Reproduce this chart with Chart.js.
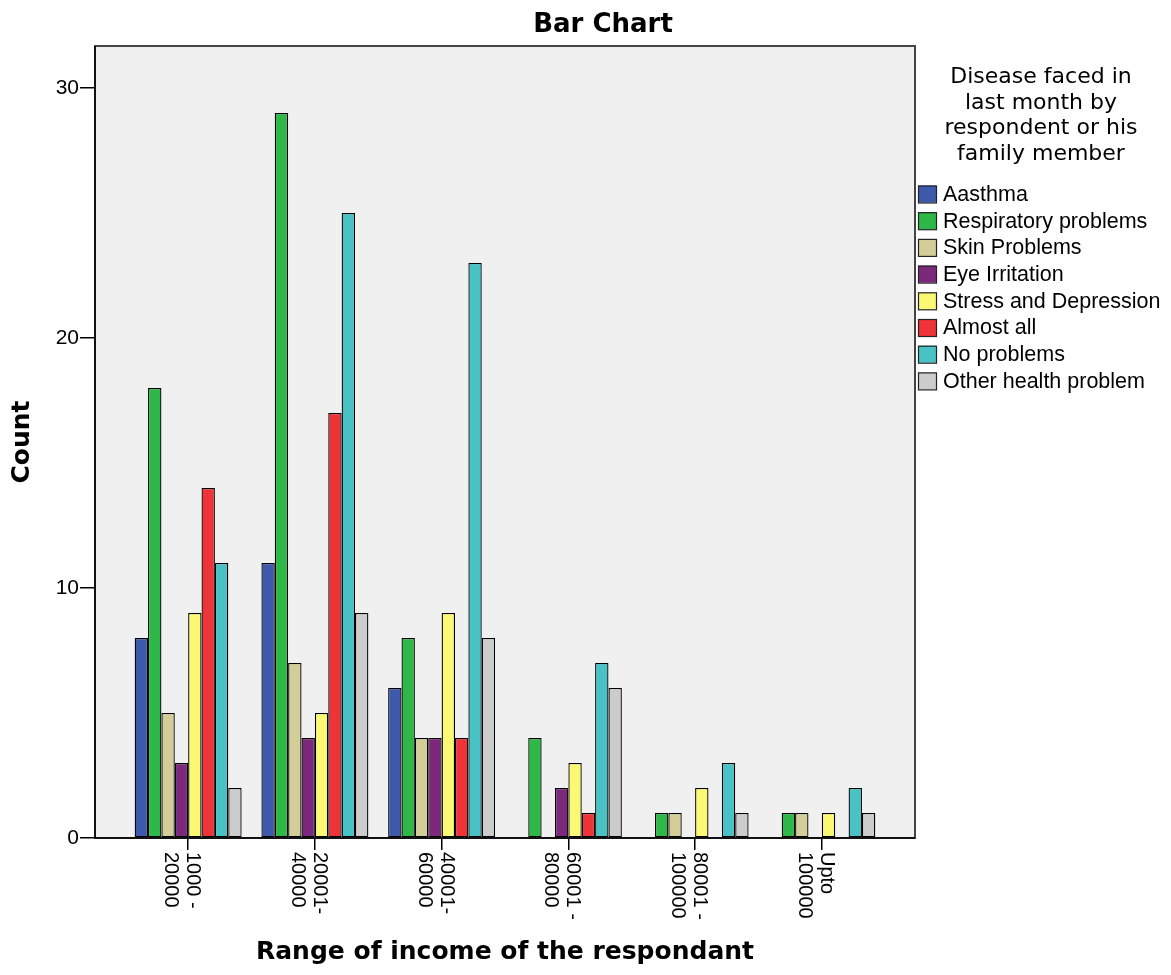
<!DOCTYPE html>
<html>
<head>
<meta charset="utf-8">
<title>Bar Chart</title>
<script src="https://cdn.jsdelivr.net/npm/chart.js"></script>
<style>
    html, body { margin: 0; padding: 0; background: #fff; }
    #wrap { width: 1171px; height: 975px; position: relative; }
</style>
</head>
<body>
<div id="wrap"><canvas id="income-disease-chart"></canvas></div>
<script>
// kategori pendapatan (dua baris per label)
const incomeRanges = [
    ["1000 -", "20000"],
    ["20001-", "40000"],
    ["40001-", "60000"],
    ["60001 -", "80000"],
    ["80001 -", "100000"],
    ["Upto", "100000"],
];

const diseaseLabels = [
    "Aasthma",
    "Respiratory problems",
    "Skin Problems",
    "Eye Irritation",
    "Stress and Depression",
    "Almost all",
    "No problems",
    "Other health problem",
];

// nilai per penyakit, urut sesuai incomeRanges
const aasthma = [8, 11, 6, 0, 0, 0];
const respiratory = [18, 29, 8, 4, 1, 1];
const skinProblems = [5, 7, 4, 0, 1, 1];
const eyeIrritation = [3, 4, 4, 2, 0, 0];
const stressDepression = [9, 5, 9, 3, 2, 1];
const almostAll = [14, 17, 4, 1, 0, 0];
const noProblems = [11, 25, 23, 7, 3, 2];
const otherHealth = [2, 9, 8, 6, 1, 1];

const yTicks = [0, 10, 20, 30];

const legendTitle = ["Disease faced in", "last month by", "respondent or his", "family member"];

const seriesColors = [
    "#3E58AC", "#2EB848", "#D3CE97", "#7C287D",
    "#FBF873", "#EF3338", "#48C2C5", "#CCCCCC",
];

const seriesData = [
    aasthma, respiratory, skinProblems, eyeIrritation,
    stressDepression, almostAll, noProblems, otherHealth,
];

// background abu-abu + bingkai area plot
const plotFrame = {
    id: "plotFrame",
    beforeDraw(chart) {
        const { ctx, chartArea: a } = chart;
        ctx.save();
        ctx.fillStyle = "#F0F0F0";
        ctx.fillRect(a.left, a.top, a.right - a.left, a.bottom - a.top);
        ctx.restore();
    },
    afterDatasetsDraw(chart) {
        const { ctx, chartArea: a } = chart;
        ctx.save();
        ctx.strokeStyle = "#444";
        ctx.lineWidth = 2;
        ctx.strokeRect(a.left, a.top, a.right - a.left, a.bottom - a.top);
        ctx.strokeStyle = "#000";
        ctx.lineWidth = 1.5;
        ctx.beginPath();
        ctx.moveTo(a.left, a.top);
        ctx.lineTo(a.left, a.bottom);
        ctx.lineTo(a.right, a.bottom);
        ctx.stroke();
        ctx.restore();
    },
};

// label sumbu x diputar searah jarum jam
const rotatedLabels = {
    id: "rotatedLabels",
    afterDraw(chart) {
        const { ctx, chartArea: a } = chart;
        const xScale = chart.scales.x;
        ctx.save();
        ctx.fillStyle = "#000";
        ctx.font = "20px 'Liberation Sans', Arial, sans-serif";
        ctx.textAlign = "left";
        ctx.textBaseline = "alphabetic";
        incomeRanges.forEach((lines, i) => {
            const x = xScale.getPixelForValue(i);
            ctx.save();
            ctx.translate(x, a.bottom + 14);
            ctx.rotate(Math.PI / 2);
            lines.forEach((line, j) => ctx.fillText(line, 0, 1 + j * 22));
            ctx.restore();
        });
        ctx.restore();
    },
};

// judul + legenda di kanan
const titleAndLegend = {
    id: "titleAndLegend",
    afterDraw(chart) {
        const { ctx } = chart;
        ctx.save();
        ctx.fillStyle = "#000";
        ctx.textAlign = "center";
        ctx.textBaseline = "alphabetic";
        ctx.font = "bold 26px 'DejaVu Sans', sans-serif";
        ctx.fillText("Bar Chart", 603, 32);

        ctx.font = "22px 'DejaVu Sans', sans-serif";
        legendTitle.forEach((line, i) => ctx.fillText(line, 1041, 83 + i * 25.7));

        ctx.textAlign = "left";
        ctx.textBaseline = "middle";
        ctx.font = "21.5px 'Liberation Sans', Arial, sans-serif";
        chart.data.datasets.forEach((ds, i) => {
            const y = 194 + i * 26.7;
            ctx.fillStyle = ds.backgroundColor;
            ctx.fillRect(918, y - 8.5, 18, 17);
            ctx.strokeStyle = "#222";
            ctx.lineWidth = 1.2;
            ctx.strokeRect(918.5, y - 8, 18, 17);
            ctx.fillStyle = "#000";
            ctx.fillText(ds.label, 943, y + 1);
        });
        ctx.restore();
    },
};

const ctx = document.getElementById("income-disease-chart");
new Chart(ctx, {
    type: "bar",
    data: {
        datasets: diseaseLabels.map((label, k) => ({
            label,
            data: seriesData[k].map((v, i) => ({ x: i, y: v })),
            backgroundColor: seriesColors[k],
            borderColor: "#000",
            borderWidth: 1.3,
            borderSkipped: false,
            inflateAmount: 0,
        })),
    },
    options: {
        responsive: true,
        maintainAspectRatio: false,
        animation: false,
        layout: { padding: { top: 46, right: 256, left: 0, bottom: 0 } },
        datasets: { bar: { categoryPercentage: 0.844, barPercentage: 1 } },
        plugins: {
            legend: { display: false },
            title: { display: false },
            tooltip: { enabled: false },
        },
        scales: {
            x: {
                type: "linear",
                min: -0.735,
                max: 5.735,
                offset: false,
                afterBuildTicks: (scale) => {
                    scale.ticks = incomeRanges.map((_, i) => ({ value: i }));
                },
                afterFit: (scale) => { scale.height = 137; },
                ticks: { display: false },
                grid: { offset: false, drawOnChartArea: false, tickLength: 12, color: "#000", lineWidth: 1.5 },
                border: { display: true, color: "#000" },
                title: {
                    display: true,
                    text: "Range of income of the respondant",
                    color: "#000",
                    font: { family: "'DejaVu Sans', sans-serif", weight: "bold", size: 25 },
                    padding: { top: 8, bottom: 8 },
                },
            },
            y: {
                min: 0,
                max: 31.68,
                afterBuildTicks: (scale) => {
                    scale.ticks = yTicks.map((v) => ({ value: v }));
                },
                afterFit: (scale) => { scale.width = 95; },
                ticks: {
                    color: "#000",
                    padding: 1,
                    font: { family: "'Liberation Sans', Arial, sans-serif", size: 21 },
                },
                grid: { drawOnChartArea: false, tickLength: 15, color: "#000", lineWidth: 1.5 },
                border: { display: true, color: "#000" },
                title: {
                    display: true,
                    text: "Count",
                    color: "#000",
                    font: { family: "'DejaVu Sans', sans-serif", weight: "bold", size: 25 },
                    padding: { top: 7, bottom: 7 },
                },
            },
        },
    },
    plugins: [plotFrame, rotatedLabels, titleAndLegend],
});
</script>
</body>
</html>
